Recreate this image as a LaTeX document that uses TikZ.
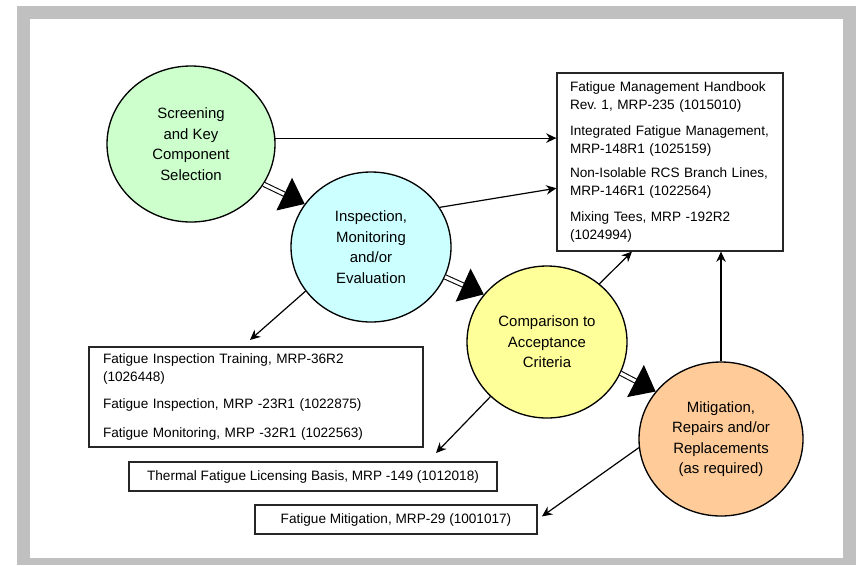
\documentclass[tikz,border=0pt]{standalone}
\usepackage{fontspec}
\setmainfont{Liberation Sans}
\usetikzlibrary{arrows.meta,shapes.geometric}
\definecolor{framegray}{RGB}{192,192,192}
\definecolor{screengreen}{RGB}{204,255,204}
\definecolor{inspectcyan}{RGB}{204,255,255}
\definecolor{compareyellow}{RGB}{255,255,153}
\definecolor{mitigorange}{RGB}{255,204,153}
\frenchspacing

\begin{document}
\begin{tikzpicture}[x=0.75pt,y=-0.75pt]
\tikzset{
  stagenode/.style={ellipse,draw=black,line width=1pt,inner sep=0pt,align=center,font=\fontsize{11.2}{15.4}\selectfont},
  refbox/.style={rectangle,draw=black!85,line width=0.9pt,inner sep=0pt,font=\fontsize{10.2}{13.5}\selectfont},
  refedge/.style={draw=black,line width=0.9pt,-{Stealth[length=2.7mm,width=2.5mm]}},
  stageedge/.style={double=white,double distance=2.4pt,line width=0.8pt,-{Triangle[length=17pt,width=27pt]}}
}
\useasboundingbox (0,0) rectangle (856,565);
\fill[framegray] (17,6) rectangle (856,565);
\fill[white] (30,19) rectangle (843,558);
% stages
\node[stagenode,fill=screengreen,minimum width=126pt,minimum height=117pt] (n_screen) at (191,144) {Screening\\and Key\\Component\\Selection};
\node[stagenode,fill=inspectcyan,minimum width=120pt,minimum height=112.5pt] (n_inspect) at (371,247) {Inspection,\\Monitoring\\and/or\\Evaluation};
\node[stagenode,fill=compareyellow,minimum width=120pt,minimum height=114pt] (n_compare) at (547,342) {Comparison to\\Acceptance\\Criteria};
\node[stagenode,fill=mitigorange,minimum width=123pt,minimum height=115.5pt] (n_mitig) at (721,439) {Mitigation,\\Repairs and/or\\Replacements\\(as required)};
% reference boxes
\node[refbox,minimum width=169.5pt,minimum height=133.5pt,text width=150pt,align=left] (n_refA) at (670,162)
  {Fatigue Management Handbook\\Rev. 1, MRP-235 (1015010)\\[6pt]
   Integrated Fatigue Management,\\MRP-148R1 (1025159)\\[5pt]
   Non-Isolable RCS Branch Lines,\\MRP-146R1 (1022564)\\[6pt]
   Mixing Tees, MRP -192R2\\(1024994)};
\node[refbox,minimum width=250.5pt,minimum height=75pt,text width=229.5pt,align=left] (n_refB) at (256,397)
  {Fatigue Inspection Training, MRP-36R2\\(1026448)\\[7pt]
   Fatigue Inspection, MRP -23R1 (1022875)\\[8pt]
   Fatigue Monitoring, MRP -32R1 (1022563)};
\node[refbox,minimum width=276pt,minimum height=21.75pt] (n_refC) at (313,476.5) {Thermal Fatigue Licensing Basis, MRP -149 (1012018)};
\node[refbox,minimum width=211.5pt,minimum height=21.75pt] (n_refD) at (396,519.5) {Fatigue Mitigation, MRP-29 (1001017)};
\coordinate (c_refB) at (250,340);
\coordinate (c_refC) at (436,453);
% process flow
\draw[stageedge] (n_screen.-29) -- (n_inspect.147);
\draw[stageedge] (n_inspect.-22) -- (n_compare.143);
\draw[stageedge] (n_compare.-23) -- (n_mitig.144);
% references
\draw[refedge] (n_screen.4) -- (n_screen.4 -| n_refA.west);
\draw[refedge] (n_inspect.30) -- (n_refA.193);
\draw[refedge] (n_compare.48) -- (n_refA.247);
\draw[refedge] (n_mitig.north) -- (n_mitig.north |- n_refA.south);
\draw[refedge] (n_inspect.214) -- (c_refB);
\draw[refedge] (n_compare.224) -- (c_refC);
\draw[refedge,shorten >=4pt] (n_mitig.186) -- (n_refD.east);
\end{tikzpicture}
\end{document}
